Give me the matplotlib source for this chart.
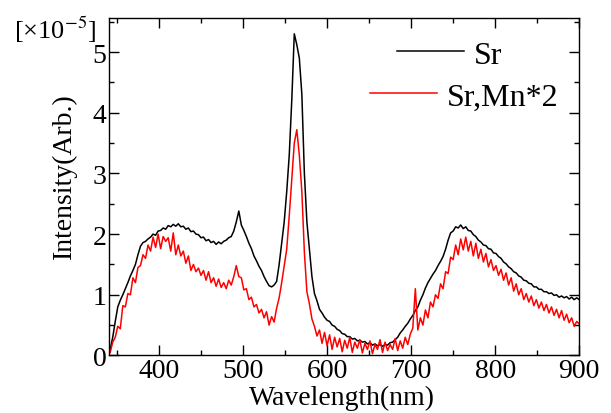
import numpy as np
import matplotlib
matplotlib.use("Agg")
import matplotlib.pyplot as plt
from matplotlib.ticker import MultipleLocator, FuncFormatter

plt.rcParams["font.family"] = ["Liberation Serif", "DejaVu Serif"]
plt.rcParams["mathtext.fontset"] = "stix"

# ── data, intensity in units of 1e-5 ──
# one row = 30 nm (10 samples every 3 nm starting at 342 nm)
wavelength = np.arange(342, 901, 3)

sr = [
    0.10, 0.30, 0.56, 0.80, 0.91, 1.00, 1.10, 1.20, 1.31, 1.40,   # 342
    1.50, 1.66, 1.80, 1.86, 1.88, 1.92, 1.95, 2.00, 1.98, 2.05,   # 372
    2.06, 2.10, 2.08, 2.14, 2.12, 2.16, 2.13, 2.17, 2.12, 2.13,   # 402
    2.08, 2.10, 2.04, 2.05, 2.00, 1.99, 1.94, 1.95, 1.89, 1.91,   # 432
    1.86, 1.88, 1.83, 1.87, 1.84, 1.88, 1.90, 1.94, 1.96, 2.05,   # 462
    2.20, 2.38, 2.15, 2.06, 1.96, 1.85, 1.76, 1.64, 1.56, 1.47,   # 492
    1.40, 1.30, 1.22, 1.15, 1.13, 1.16, 1.22, 1.50, 1.85, 2.20,   # 522
    2.70, 3.30, 4.20, 5.30, 5.12, 4.90, 4.30, 3.00, 2.20, 1.75,   # 552
    1.30, 1.02, 0.90, 0.76, 0.70, 0.63, 0.58, 0.56, 0.50, 0.48,   # 582
    0.43, 0.41, 0.36, 0.35, 0.31, 0.31, 0.27, 0.28, 0.24, 0.25,   # 612
    0.22, 0.23, 0.19, 0.21, 0.17, 0.19, 0.16, 0.18, 0.15, 0.18,   # 642
    0.17, 0.21, 0.22, 0.26, 0.30, 0.37, 0.42, 0.48, 0.53, 0.60,   # 672
    0.66, 0.74, 0.80, 0.91, 1.00, 1.11, 1.20, 1.27, 1.34, 1.40,   # 702
    1.48, 1.55, 1.63, 1.75, 1.90, 2.02, 2.05, 2.12, 2.10, 2.15,   # 732
    2.09, 2.12, 2.06, 2.05, 1.99, 1.96, 1.90, 1.87, 1.82, 1.81,   # 762
    1.76, 1.75, 1.69, 1.68, 1.63, 1.60, 1.54, 1.51, 1.46, 1.43,   # 792
    1.38, 1.36, 1.31, 1.29, 1.24, 1.23, 1.19, 1.18, 1.13, 1.13,   # 822
    1.09, 1.09, 1.05, 1.05, 1.02, 1.03, 0.99, 1.00, 0.96, 0.98,   # 852
    0.95, 0.97, 0.93, 0.96, 0.92, 0.95, 0.92,                     # 882
]

sr_mn = [
    0.05, 0.22, 0.30, 0.48, 0.44, 0.82, 0.80, 1.02, 1.00, 1.28,   # 342
    1.20, 1.45, 1.48, 1.66, 1.60, 1.82, 1.72, 1.95, 1.78, 2.00,   # 372
    1.76, 1.96, 1.88, 1.94, 1.72, 2.02, 1.66, 1.82, 1.64, 1.72,   # 402
    1.52, 1.64, 1.40, 1.50, 1.38, 1.44, 1.32, 1.40, 1.24, 1.38,   # 432
    1.20, 1.28, 1.14, 1.26, 1.12, 1.20, 1.10, 1.24, 1.16, 1.30,   # 462
    1.48, 1.30, 1.28, 1.08, 1.10, 0.92, 0.96, 0.80, 0.84, 0.70,   # 492
    0.76, 0.62, 0.72, 0.50, 0.64, 0.55, 0.78, 0.95, 1.20, 1.48,   # 522
    1.75, 2.30, 2.90, 3.50, 3.72, 3.30, 2.70, 1.70, 1.05, 0.85,   # 552
    0.60, 0.48, 0.32, 0.42, 0.20, 0.38, 0.16, 0.34, 0.10, 0.30,   # 582
    0.14, 0.28, 0.06, 0.25, 0.12, 0.30, 0.05, 0.22, 0.12, 0.26,   # 612
    0.04, 0.20, 0.10, 0.24, 0.03, 0.18, 0.10, 0.26, 0.05, 0.22,   # 642
    0.08, 0.18, 0.10, 0.28, 0.08, 0.24, 0.12, 0.30, 0.18, 0.35,   # 672
    0.45, 1.10, 0.42, 0.62, 0.50, 0.75, 0.62, 0.88, 0.80, 1.00,   # 702
    0.94, 1.18, 1.10, 1.38, 1.35, 1.62, 1.58, 1.82, 1.66, 1.92,   # 732
    1.74, 1.95, 1.72, 1.88, 1.64, 1.85, 1.60, 1.75, 1.54, 1.68,   # 762
    1.46, 1.58, 1.40, 1.48, 1.32, 1.42, 1.24, 1.36, 1.16, 1.28,   # 792
    1.06, 1.18, 1.00, 1.10, 0.92, 1.02, 0.88, 0.98, 0.82, 0.92,   # 822
    0.78, 0.88, 0.74, 0.84, 0.70, 0.80, 0.66, 0.76, 0.62, 0.74,   # 852
    0.58, 0.68, 0.54, 0.62, 0.48, 0.56, 0.52,                     # 882
]

XLIM = (341, 900)
YLIM = (0, 5.56)

fig = plt.figure(figsize=(6.11, 4.14), dpi=100)
ax = fig.add_axes([0.179, 0.139, 0.769, 0.815])

l1, = ax.plot(wavelength, sr, color="black", lw=1.1)
l2, = ax.plot(wavelength, sr_mn, color="red", lw=1.1)

ax.set_xlim(*XLIM)
ax.set_ylim(*YLIM)
ax.xaxis.set_major_locator(MultipleLocator(100))
ax.xaxis.set_minor_locator(MultipleLocator(50))
ax.yaxis.set_major_locator(MultipleLocator(1))
ax.yaxis.set_minor_locator(MultipleLocator(0.5))
plain = FuncFormatter(lambda v, pos: f"{v:.0f}")
ax.xaxis.set_major_formatter(plain)
ax.yaxis.set_major_formatter(plain)
ax.tick_params(which="both", direction="in", top=True, right=True,
               labelsize=20, width=1.0)
ax.tick_params(which="major", length=7, pad=2)
ax.tick_params(which="minor", length=3.5)
for s in ax.spines.values():
    s.set_linewidth(1.0)

ax.set_xlabel("Wavelength(nm)", fontsize=20)
ax.xaxis.set_label_coords(0.495, -0.088)
ax.set_ylabel("Intensity(Arb.)", fontsize=20)
ax.yaxis.set_label_coords(-0.07, 0.535)
fig.text(14 / 611, 1 - 30 / 414, r"[×10$^{\mathrm{-5}}$]", fontsize=19,
         ha="left", va="center")

# legend: two single-entry legends so each line starts where it does in the source
leg1 = ax.legend([l1], ["Sr"], loc="center left", frameon=False,
                 bbox_to_anchor=(397 / 611, 1 - 56 / 414),
                 bbox_transform=fig.transFigure, borderpad=0,
                 borderaxespad=0, handlelength=2.1, handletextpad=0.3,
                 fontsize=23)
ax.add_artist(leg1)
ax.legend([l2], ["Sr,Mn*2"], loc="center left", frameon=False,
          bbox_to_anchor=(370 / 611, 1 - 98 / 414),
          bbox_transform=fig.transFigure, borderpad=0,
          borderaxespad=0, handlelength=2.1, handletextpad=0.3,
          fontsize=23)

fig.savefig("out.png", dpi=100)
